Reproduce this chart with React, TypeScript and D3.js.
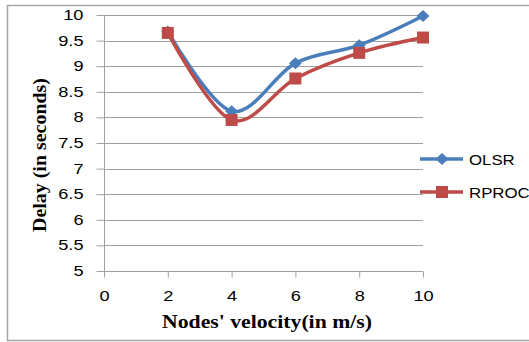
import * as d3 from 'd3'
import { useEffect, useRef } from 'react'

const velocities = [2, 4, 6, 8, 10]
const olsr = [9.68, 8.12, 9.06, 9.41, 9.98]
const rproc = [9.65, 7.95, 8.76, 9.26, 9.56]
const xTicks = [0, 2, 4, 6, 8, 10]
const yTicks = [5, 5.5, 6, 6.5, 7, 7.5, 8, 8.5, 9, 9.5, 10]

const W = 529
const H = 342
const plot = { left: 104, right: 423, top: 15, bottom: 271 }

const blue = '#4a7ebb'
const red = '#be4b48'

// the source picture is stretched sideways, so widen text to match
function stretch(sel, k) {
  sel.each(function () {
    const el = this as SVGTextElement
    const w = el.getComputedTextLength()
    d3.select(el).attr('textLength', w * k).attr('lengthAdjust', 'spacingAndGlyphs')
  })
}

export default function App() {
  const ref = useRef<SVGSVGElement>(null)

  useEffect(() => {
    const svg = d3.select(ref.current)
    svg.selectAll('*').remove()

    const x = d3.scaleLinear().domain([0, 10]).range([plot.left, plot.right])
    const y = d3.scaleLinear().domain([5, 10]).range([plot.bottom, plot.top])

    // outer frame (right side runs off the picture)
    svg
      .append('path')
      .attr('d', `M${W + 20},5.5H7.5V340.5H${W + 20}`)
      .attr('fill', 'white')
      .attr('stroke', '#a6a6a6')
      .attr('stroke-width', 1.5)

    // gridlines
    svg
      .append('g')
      .selectAll('line')
      .data(yTicks.slice(1))
      .enter()
      .append('line')
      .attr('x1', plot.left)
      .attr('x2', plot.right)
      .attr('y1', (d) => Math.round(y(d)) + 0.5)
      .attr('y2', (d) => Math.round(y(d)) + 0.5)
      .attr('stroke', '#a0a0a0')

    // y axis
    const yAxis = svg
      .append('g')
      .attr('transform', `translate(${plot.left + 0.5},0)`)
      .call(d3.axisLeft(y).tickValues(yTicks).tickSize(8).tickPadding(13).tickFormat(d3.format('')))
    yAxis.select('.domain').attr('stroke', '#a0a0a0').attr('d', `M0,${plot.top}V${plot.bottom}`)
    yAxis.selectAll('.tick line').attr('stroke', '#a0a0a0')
    yAxis
      .selectAll('.tick text')
      .attr('font-family', 'Liberation Sans, Arial, sans-serif')
      .attr('font-size', 14)
      .attr('fill', '#000')
      .call(stretch, 1.3)

    // x axis
    const xAxis = svg
      .append('g')
      .attr('transform', `translate(0,${plot.bottom + 0.5})`)
      .call(d3.axisBottom(x).tickValues(xTicks).tickSize(6).tickPadding(14))
    xAxis.select('.domain').attr('stroke', '#a0a0a0').attr('d', `M${plot.left},0H${plot.right}`)
    xAxis.selectAll('.tick line').attr('stroke', '#a0a0a0')
    xAxis
      .selectAll('.tick text')
      .attr('font-family', 'Liberation Sans, Arial, sans-serif')
      .attr('font-size', 14)
      .attr('fill', '#000')
      .call(stretch, 1.3)

    // titles
    svg
      .append('text')
      .attr('transform', 'translate(46,155) rotate(-90)')
      .attr('text-anchor', 'middle')
      .attr('font-family', 'Liberation Serif, Times New Roman, serif')
      .attr('font-weight', 'bold')
      .attr('font-size', 19)
      .attr('textLength', 154)
      .attr('lengthAdjust', 'spacingAndGlyphs')
      .text('Delay (in seconds)')

    svg
      .append('text')
      .attr('x', 267)
      .attr('y', 328)
      .attr('text-anchor', 'middle')
      .attr('font-family', 'Liberation Serif, Times New Roman, serif')
      .attr('font-weight', 'bold')
      .attr('font-size', 18)
      .attr('textLength', 210)
      .attr('lengthAdjust', 'spacingAndGlyphs')
      .text("Nodes' velocity(in m/s)")

    const line = d3
      .line<number>()
      .x((_, i) => x(velocities[i]))
      .y((d) => y(d))
      .curve(d3.curveCatmullRom.alpha(0))

    const series = [
      { name: 'OLSR', values: olsr, color: blue, marker: 'diamond' },
      { name: 'RPROC', values: rproc, color: red, marker: 'square' },
    ]

    const symbolPath = (m: string) =>
      m === 'diamond' ? 'M0,-6L6.5,0L0,6L-6.5,0Z' : 'M-6,-6H6V6H-6Z'

    series.forEach((s) => {
      svg
        .append('path')
        .attr('d', line(s.values))
        .attr('fill', 'none')
        .attr('stroke', s.color)
        .attr('stroke-width', 3.5)
    })

    series.forEach((s) => {
      svg
        .append('g')
        .selectAll('path')
        .data(s.values)
        .enter()
        .append('path')
        .attr('transform', (d, i) => `translate(${x(velocities[i])},${y(d)})`)
        .attr('d', symbolPath(s.marker))
        .attr('fill', s.color)
    })

    // legend
    const legend = svg
      .append('g')
      .selectAll('g')
      .data(series)
      .enter()
      .append('g')
      .attr('transform', (_, i) => `translate(420,${159 + i * 33})`)
    legend
      .append('line')
      .attr('x1', 0)
      .attr('x2', 43)
      .attr('stroke', (d) => d.color)
      .attr('stroke-width', 3.5)
    legend
      .append('path')
      .attr('transform', 'translate(22,0)')
      .attr('d', (d) => symbolPath(d.marker))
      .attr('fill', (d) => d.color)
    legend
      .append('text')
      .attr('x', 49)
      .attr('y', 5.5)
      .attr('font-family', 'Liberation Sans, Arial, sans-serif')
      .attr('font-size', 15)
      .text((d) => d.name)
      .call(stretch, 1.12)
  }, [])

  return (
    <svg
      ref={ref}
      width={W}
      height={H}
      style={{ position: 'absolute', left: 0, top: 0 }}
    />
  )
}
